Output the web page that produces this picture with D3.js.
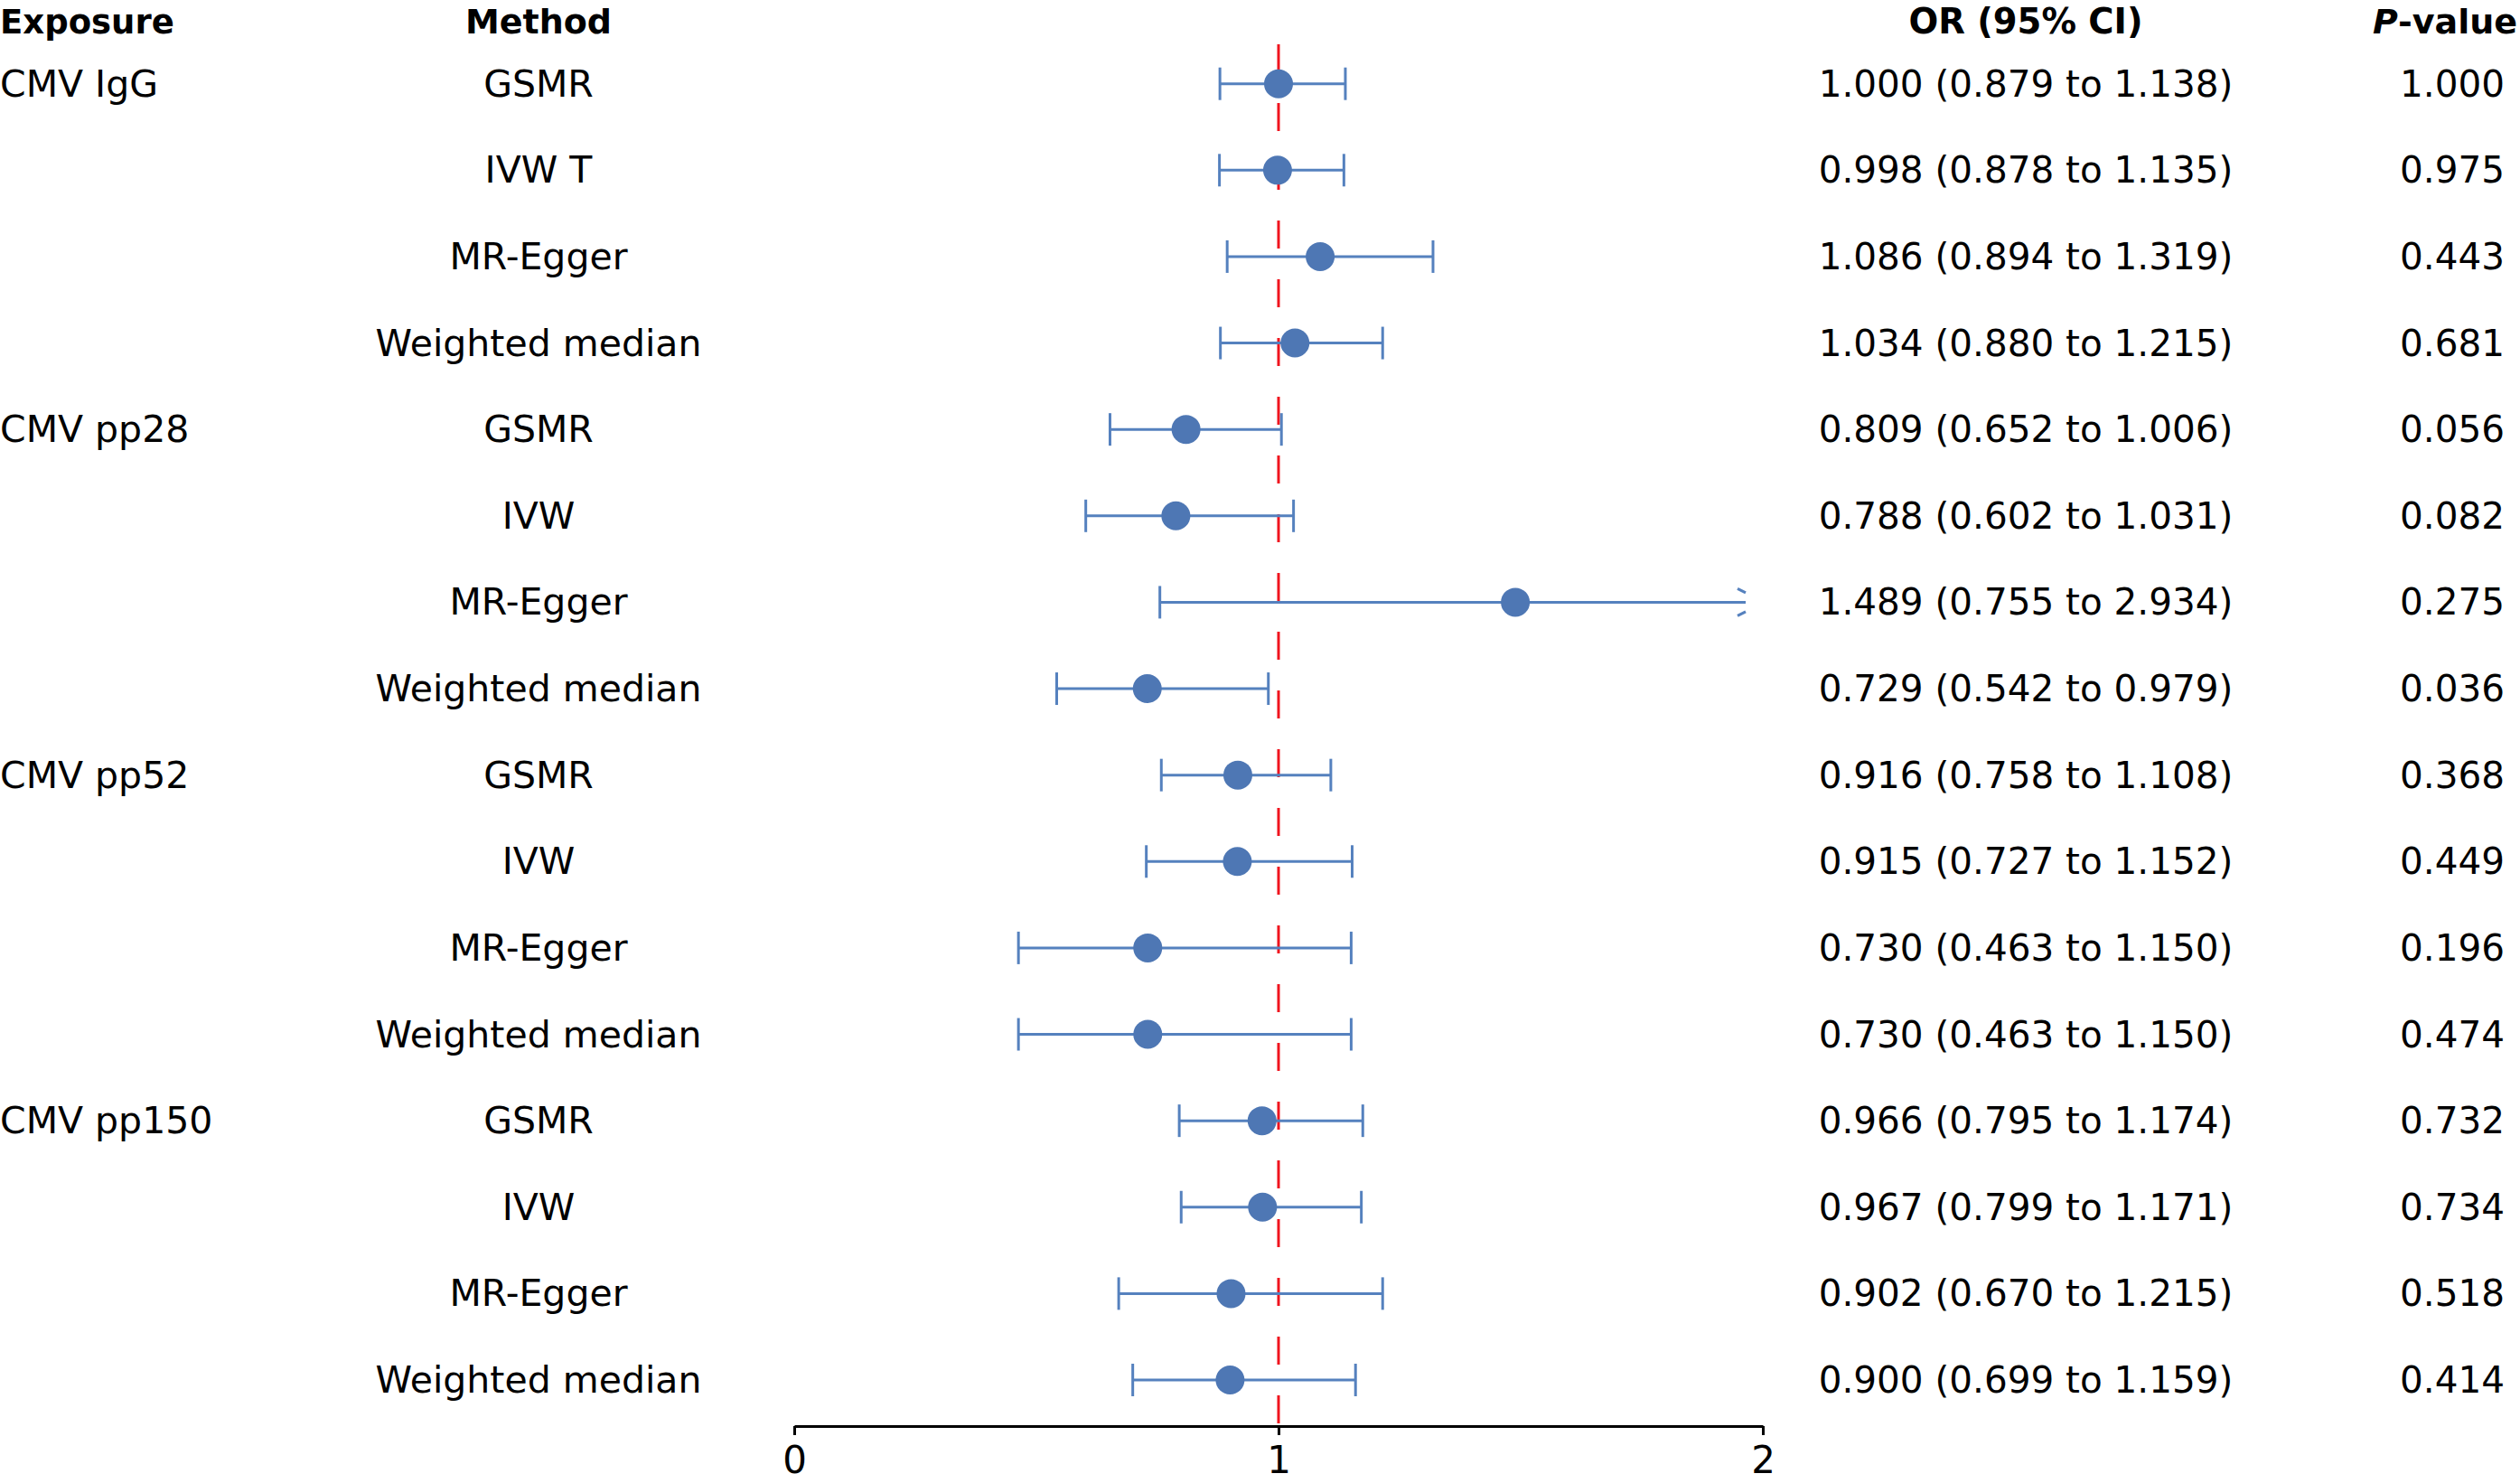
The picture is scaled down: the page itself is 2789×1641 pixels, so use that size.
<!DOCTYPE html>
<html>
<head>
<meta charset="utf-8">
<script src="https://cdn.jsdelivr.net/npm/d3@7"></script>
<style>
  html, body { margin: 0; padding: 0; background: #fff; }
  svg { display: block; }
  text { font-family: "DejaVu Sans", sans-serif; fill: #000; }
</style>
</head>
<body>
<script>
// ---- data ----
const exposures = ["CMV IgG", "CMV pp28", "CMV pp52", "CMV pp150"];
const methods = [
  "GSMR", "IVW T", "MR-Egger", "Weighted median",
  "GSMR", "IVW", "MR-Egger", "Weighted median",
  "GSMR", "IVW", "MR-Egger", "Weighted median",
  "GSMR", "IVW", "MR-Egger", "Weighted median"
];
const orValues = [1.000, 0.998, 1.086, 1.034, 0.809, 0.788, 1.489, 0.729, 0.916, 0.915, 0.730, 0.730, 0.966, 0.967, 0.902, 0.900];
const ciLower  = [0.879, 0.878, 0.894, 0.880, 0.652, 0.602, 0.755, 0.542, 0.758, 0.727, 0.463, 0.463, 0.795, 0.799, 0.670, 0.699];
const ciUpper  = [1.138, 1.135, 1.319, 1.215, 1.006, 1.031, 2.934, 0.979, 1.108, 1.152, 1.150, 1.150, 1.174, 1.171, 1.215, 1.159];
const pValues  = ["1.000", "0.975", "0.443", "0.681", "0.056", "0.082", "0.275", "0.036", "0.368", "0.449", "0.196", "0.474", "0.732", "0.734", "0.518", "0.414"];
const headers = ["Exposure", "Method", "OR (95% CI)", "P-value"];
const xTicks = [0, 1, 2];
const refValue = 1;

// ---- layout ----
const W = 2789, H = 1641;
const blue = "#4e77b4", lineBlue = "#5581be", red = "#f0141e";

const svg = d3.select("body").append("svg").attr("width", W).attr("height", H);
svg.append("rect").attr("width", W).attr("height", H).attr("fill", "#fff");

const x = d3.scaleLinear().domain([0, 2]).range([879, 1951]);
const y = d3.scalePoint().domain(d3.range(methods.length)).range([92.7, 1527]);
const axisY = 1578;

const colMethod = 596, colOR = 2242;
const fsLabel = 41, fsOR = 40.5;

// headers
const hy = 37;
svg.append("text").attr("x", 0).attr("y", hy).attr("font-size", 37).attr("font-weight", "bold").text(headers[0]);
svg.append("text").attr("x", colMethod).attr("y", hy).attr("text-anchor", "middle").attr("font-size", 38).attr("font-weight", "bold").text(headers[1]);
svg.append("text").attr("x", colOR).attr("y", hy).attr("text-anchor", "middle").attr("font-size", 38.5).attr("font-weight", "bold").text(headers[2]);
const ph = svg.append("text").attr("x", 2786).attr("y", hy).attr("text-anchor", "end").attr("font-size", 38).attr("font-weight", "bold");
ph.append("tspan").attr("font-style", "italic").text("P");
ph.append("tspan").text(headers[3].slice(1));

// reference dashed line
svg.append("line")
  .attr("x1", x(refValue)).attr("x2", x(refValue))
  .attr("y1", 49).attr("y2", axisY)
  .attr("stroke", red).attr("stroke-width", 3)
  .attr("stroke-dasharray", "31,34");

// axis
const axis = d3.axisBottom(x).tickValues(xTicks).tickFormat(d3.format("d")).tickSize(10).tickSizeOuter(0).tickPadding(12);
const ag = svg.append("g").attr("transform", `translate(0,${axisY})`).call(axis);
ag.select(".domain").attr("stroke", "#000").attr("stroke-width", 3.2);
ag.selectAll(".tick line").attr("stroke", "#000").attr("stroke-width", 3);
ag.selectAll(".tick text").attr("font-family", "DejaVu Sans, sans-serif").attr("font-size", 42).attr("fill", "#000").attr("dy", "0.71em");

// rows
const rows = svg.append("g").selectAll("g").data(methods.map((m, i) => i)).join("g");

// exposure labels
exposures.forEach((e, k) => {
  svg.append("text").attr("x", 0).attr("y", y(k * 4) + 14).attr("font-size", fsLabel).text(e);
});

rows.append("text").attr("x", colMethod).attr("y", i => y(i) + 14).attr("text-anchor", "middle").attr("font-size", fsLabel).text(i => methods[i]);
rows.append("text").attr("x", colOR).attr("y", i => y(i) + 14).attr("text-anchor", "middle").attr("font-size", fsOR)
  .text(i => `${orValues[i].toFixed(3)} (${ciLower[i].toFixed(3)} to ${ciUpper[i].toFixed(3)})`);
rows.append("text").attr("x", 2772).attr("y", i => y(i) + 14).attr("text-anchor", "end").attr("font-size", fsOR).text(i => pValues[i]);

const xMax = x.domain()[1];
const hiPos = i => ciUpper[i] > xMax ? x(xMax) - 19 : x(ciUpper[i]);

// whiskers
rows.append("line")
  .attr("x1", i => x(ciLower[i])).attr("x2", i => hiPos(i))
  .attr("y1", i => y(i)).attr("y2", i => y(i))
  .attr("stroke", lineBlue).attr("stroke-width", 3);
// lower caps
rows.append("line")
  .attr("x1", i => x(ciLower[i])).attr("x2", i => x(ciLower[i]))
  .attr("y1", i => y(i) - 18).attr("y2", i => y(i) + 18)
  .attr("stroke", lineBlue).attr("stroke-width", 3);
// upper caps or arrows
rows.filter(i => ciUpper[i] <= xMax).append("line")
  .attr("x1", i => x(ciUpper[i])).attr("x2", i => x(ciUpper[i]))
  .attr("y1", i => y(i) - 18).attr("y2", i => y(i) + 18)
  .attr("stroke", lineBlue).attr("stroke-width", 3);
const arrowRows = rows.filter(i => ciUpper[i] > xMax);
arrowRows.append("line")
  .attr("x1", i => hiPos(i) - 9).attr("y1", i => y(i) - 15)
  .attr("x2", i => hiPos(i)).attr("y2", i => y(i) - 10.5)
  .attr("stroke", lineBlue).attr("stroke-width", 3);
arrowRows.append("line")
  .attr("x1", i => hiPos(i) - 9).attr("y1", i => y(i) + 15)
  .attr("x2", i => hiPos(i)).attr("y2", i => y(i) + 10.5)
  .attr("stroke", lineBlue).attr("stroke-width", 3);

// points
rows.append("circle")
  .attr("cx", i => x(orValues[i])).attr("cy", i => y(i)).attr("r", 16)
  .attr("fill", blue);
</script>
</body>
</html>
